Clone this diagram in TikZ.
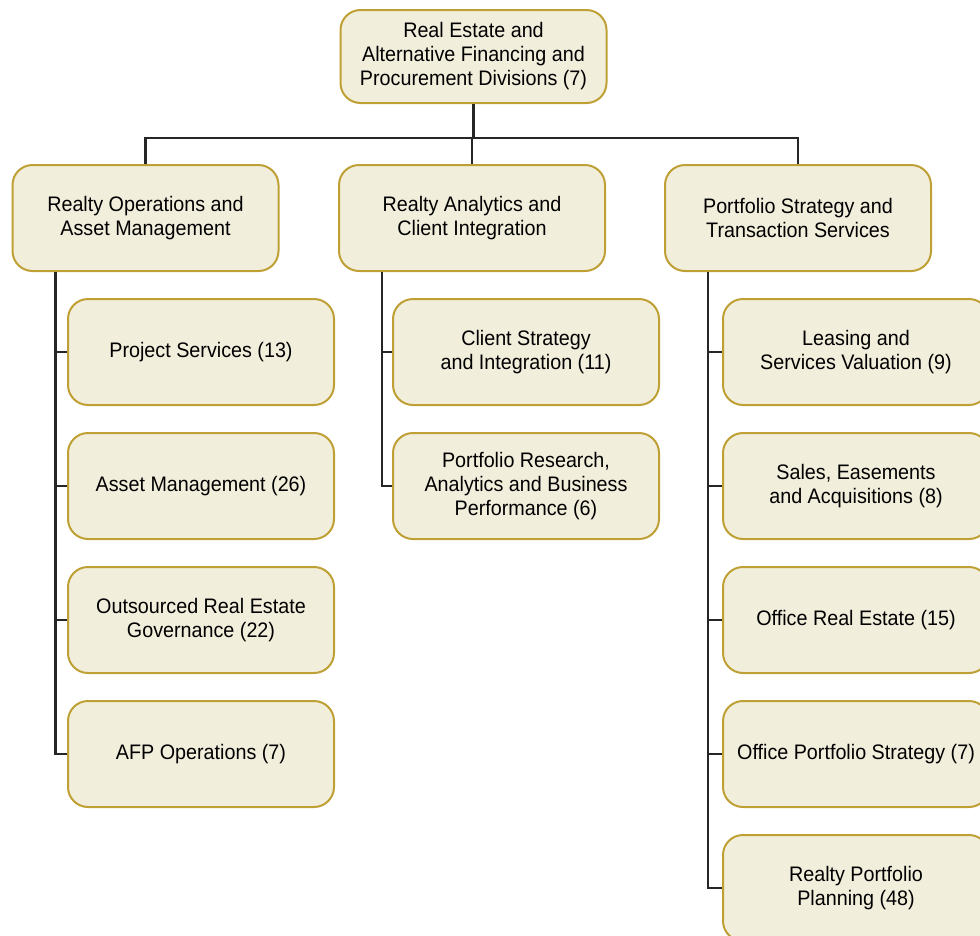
\documentclass[tikz,border=0pt]{standalone}
\usepackage{fontspec}
\setmainfont{Liberation Sans}[FakeStretch=0.94]

\definecolor{boxfill}{HTML}{F2EEDC}
\definecolor{boxline}{HTML}{BFA035}

\tikzset{
    unit/.style={draw=boxline, fill=boxfill, line width=2pt, rounded corners=20pt,
        minimum width=266pt, minimum height=106pt, align=center,
        font=\fontsize{21}{24}\selectfont},
    link/.style={line width=2.2pt, black!85},
}

\begin{document}
\begin{tikzpicture}[x=1pt, y=-1pt]

    \def\dy{134}   % pitch of the unit boxes
    \def\off{44}   % spine offset from left edge of a division box
    \useasboundingbox (0,0) rectangle (980,935);
    \clip (0,0) rectangle (980,935);

    % Head office
    \node[unit, minimum height=93pt] (top) at (473.5,56.5)
        {Real Estate and\\Alternative Financing and\\Procurement Divisions (7)};
    \coordinate (bus) at (473.5,138);

    % Divisions
    \node[unit] (roam) at (145.5,218) {Realty Operations and\\Asset Management};
    \node[unit] (raci) at (472,218)   {Realty Analytics and\\Client Integration};
    \node[unit] (psts) at (798,218)   {Portfolio Strategy and\\Transaction Services};

    \draw[link] (top.south) -- (top.south |- bus);
    \foreach \d in {roam,raci,psts}{
        \draw[link] (\d.north) |- (top.south |- bus);
    }

    % Units, left
    \foreach \n/\t [count=\i] in {ps/Project Services (13),
                                  am/Asset Management (26),
                                  org/Outsourced Real Estate\\Governance (22),
                                  afp/AFP Operations (7)}{
        \node[unit] (\n) at (201,{218+\i*\dy}) {\t};
        \draw[link] ([xshift=\off pt]roam.south west) |- (\n.west);
    }

    % Units, middle
    \foreach \n/\t [count=\i] in {csi/Client Strategy\\and Integration (11),
                                  prab/{Portfolio Research,\\Analytics and Business\\Performance (6)}}{
        \node[unit] (\n) at (526,{218+\i*\dy}) {\t};
        \draw[link] ([xshift=\off pt]raci.south west) |- (\n.west);
    }

    % Units, right
    \foreach \n/\t [count=\i] in {lsv/Leasing and\\Services Valuation (9),
                                  sea/{Sales, Easements\\and Acquisitions (8)},
                                  ore/Office Real Estate (15),
                                  ops/Office Portfolio Strategy (7),
                                  rpp/Realty Portfolio\\Planning (48)}{
        \node[unit] (\n) at (856,{218+\i*\dy}) {\t};
        \draw[link] ([xshift=\off pt]psts.south west) |- (\n.west);
    }

\end{tikzpicture}
\end{document}
